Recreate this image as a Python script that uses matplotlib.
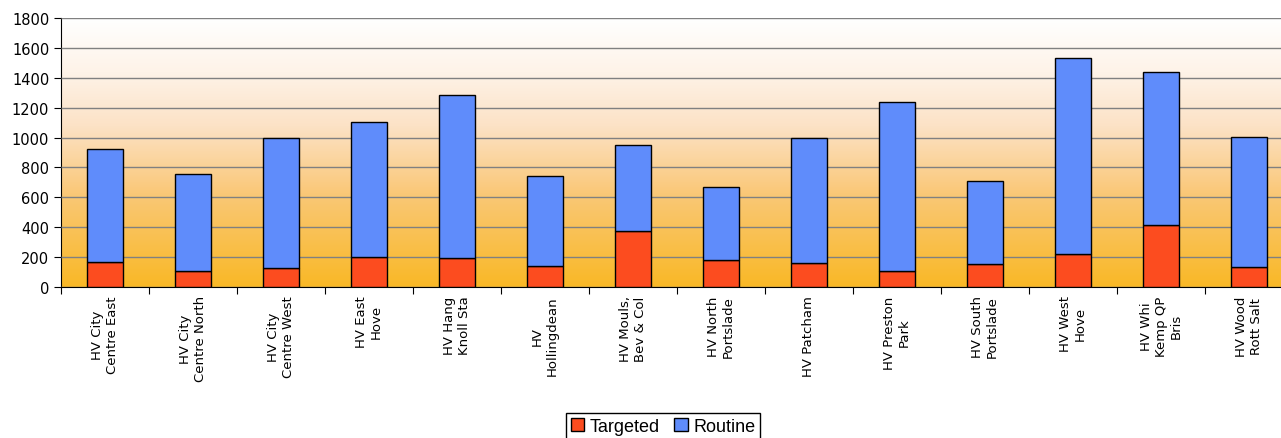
import numpy as np
import matplotlib
matplotlib.use('Agg')
import matplotlib.pyplot as plt
from matplotlib.colors import LinearSegmentedColormap

# Daten
areas = ['HV City\nCentre East', 'HV City\nCentre North', 'HV City\nCentre West',
         'HV East\nHove', 'HV Hang\nKnoll Sta', 'HV\nHollingdean', 'HV Mouls,\nBev & Col',
         'HV North\nPortslade', 'HV Patcham', 'HV Preston\nPark', 'HV South\nPortslade',
         'HV West\nHove', 'HV Whi\nKemp QP\nBris', 'HV Wood\nRott Salt']
targeted = [164, 107, 124, 200, 194, 140, 376, 182, 160, 104, 154, 218, 418, 131]
routine = [760, 646, 872, 907, 1093, 606, 575, 490, 836, 1134, 554, 1317, 1019, 871]

red = '#FC4C1F'
blue = '#5F8CFB'

fig = plt.figure(figsize=(12.81, 4.39), dpi=100)
n = len(areas)
# Achse geht rechts leicht über den Bildrand hinaus (wie im Original)
ax = fig.add_axes([61 / 1281, 151 / 439, 88 * n / 1281, 269 / 439])

# Hintergrund-Verlauf
cmap = LinearSegmentedColormap.from_list('bg', [(0.0, '#F9B826'), (0.35, '#FAC878'),
                                                (0.6, '#FCE2C6'), (0.8, '#FEF3E8'),
                                                (1.0, '#FFFFFF')])
grad = np.linspace(0, 1, 256).reshape(-1, 1)
ax.imshow(grad, cmap=cmap, aspect='auto', origin='lower',
          extent=[-0.5, n - 0.5, 0, 1800], zorder=0)

x = np.arange(n)
ax.bar(x, targeted, width=0.4, color=red, edgecolor='black', linewidth=1,
       label='Targeted', zorder=3)
ax.bar(x, routine, width=0.4, bottom=targeted, color=blue, edgecolor='black',
       linewidth=1, label='Routine', zorder=3)

ax.set_xlim(-0.5, n - 0.5)
ax.set_ylim(0, 1800)
ax.set_yticks(range(0, 1801, 200))
ax.yaxis.grid(True, color='#808080', linewidth=1)
ax.set_axisbelow(False)
for g in ax.get_ygridlines():
    g.set_zorder(1)

ax.set_xticks(np.arange(-0.5, n, 1))
ax.set_xticklabels([])
ax.set_xticks(x, minor=True)
ax.set_xticklabels(areas, minor=True, rotation=90, ha='center', va='top',
                   multialignment='center', fontsize=9.5)
ax.tick_params(axis='x', which='minor', length=0, pad=6)
ax.tick_params(axis='x', which='major', direction='out', length=5, color='black')
ax.tick_params(axis='y', direction='out', length=5, labelsize=10.5)

for s in ['top', 'right']:
    ax.spines[s].set_visible(False)
ax.spines['left'].set_color('black')
ax.spines['bottom'].set_color('black')

leg = fig.legend(loc='upper center', bbox_to_anchor=(663 / 1281, 34 / 439), ncol=2,
                 frameon=True, fancybox=False, edgecolor='black', framealpha=1,
                 prop={'family': 'Liberation Sans', 'size': 13},
                 handlelength=0.75, handleheight=0.75, handletextpad=0.3,
                 columnspacing=0.8, borderpad=0.25)
leg.get_frame().set_linewidth(1)

plt.savefig('out.png', dpi=100)
